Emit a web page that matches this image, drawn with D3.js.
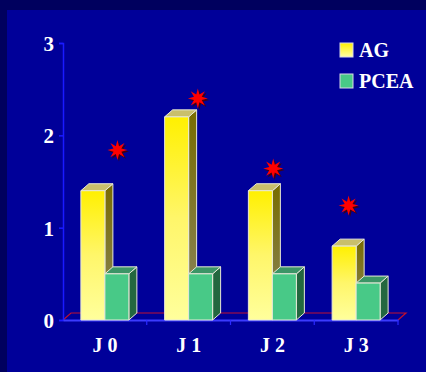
<!DOCTYPE html>
<html>
<head>
<meta charset="utf-8">
<script src="https://cdn.jsdelivr.net/npm/d3@7/dist/d3.min.js"></script>
<style>
  html, body { margin: 0; padding: 0; background: #00005e; }
  svg { display: block; }
</style>
</head>
<body>
<svg id="chart" width="426" height="372"></svg>
<script>
// Categories, series and values
const categories = ["J 0", "J 1", "J 2", "J 3"];
const seriesNames = ["AG", "PCEA"];
const agValues = [1.4, 2.2, 1.4, 0.8];
const pceaValues = [0.5, 0.5, 0.5, 0.4];
// Significance markers: value level and horizontal place within each category (0..1 of the band step)
const starValues = [1.84, 2.4, 1.64, 1.24];
const starPlace = [0.65, 0.61, 0.51, 0.41];
const yTicks = [0, 1, 2, 3];

const W = 426, H = 372;
const svg = d3.select("#chart");
const defs = svg.append("defs");

// background panel
svg.append("rect").attr("width", W).attr("height", H).attr("fill", "#00005e");
svg.append("rect").attr("x", 7).attr("y", 10).attr("width", W - 7).attr("height", H - 10).attr("fill", "#000099");

const plot = { left: 63, right: 398, top: 43, bottom: 320 };
const depth = { dx: 8, dy: -7 };

const x = d3.scaleBand().domain(categories).range([plot.left, plot.right])
  .paddingInner(0.427).paddingOuter(0.2135);
const xs = d3.scaleBand().domain(seriesNames).range([0, x.bandwidth()]).padding(0);
const y = d3.scaleLinear().domain([0, 3]).range([plot.bottom, plot.top]);

// gradients
function linGrad(id, stops) {
  const g = defs.append("linearGradient").attr("id", id)
    .attr("x1", 0).attr("y1", 0).attr("x2", 0).attr("y2", 1);
  stops.forEach(s => g.append("stop").attr("offset", s[0]).attr("stop-color", s[1]));
}
linGrad("agFront", [[0, "#fff000"], [0.5, "#fff66a"], [1, "#ffff9c"]]);
linGrad("agSide", [[0, "#786c00"], [1, "#8a8560"]]);
linGrad("agLegend", [[0, "#fff000"], [1, "#ffffa8"]]);

const styles = {
  AG: { front: "url(#agFront)", side: "url(#agSide)", top: "#c9bf6c" },
  PCEA: { front: "#48c987", side: "#23673f", top: "#3b9566" }
};

// floor of the 3D plot
const floor = svg.append("g");
floor.append("path")
  .attr("d", `M${plot.left},${plot.bottom} L${plot.left + depth.dx},${plot.bottom + depth.dy} L${plot.right + depth.dx},${plot.bottom + depth.dy} L${plot.right},${plot.bottom}`)
  .attr("fill", "none").attr("stroke", "#c01030").attr("stroke-width", 1.2);

// y axis
const yAxis = d3.axisLeft(y).tickValues(yTicks).tickSize(4).tickPadding(5).tickFormat(d3.format("d"));
const yG = svg.append("g").attr("transform", `translate(${plot.left},0)`).call(yAxis);
yG.select(".domain").attr("stroke", "#1a1aff").attr("stroke-width", 1.5);
yG.selectAll(".tick line").attr("stroke", "#1a1aff").attr("stroke-width", 1.5);
yG.selectAll(".tick text")
  .attr("fill", "#ffffff").attr("font-family", "'Liberation Serif', 'Times New Roman', serif")
  .attr("font-weight", "bold").attr("font-size", 21).attr("dy", "0.36em");

// x axis
const xAxis = d3.axisBottom(x).tickSize(0).tickPadding(22);
const xG = svg.append("g").attr("transform", `translate(0,${plot.bottom})`).call(xAxis);
xG.select(".domain").attr("stroke", "#3b3bff").attr("stroke-width", 2);
xG.selectAll(".tick text")
  .attr("fill", "#ffffff").attr("font-family", "'Liberation Serif', 'Times New Roman', serif")
  .attr("font-weight", "bold").attr("font-size", 20).attr("dy", "0.5em")
  .style("white-space", "pre").attr("xml:space", "preserve");
// category separators on the front edge
const sepX = categories.map((c, i) => plot.left + x.step() * (i + 1));
xG.selectAll(".sep").data(sepX).join("line").attr("class", "sep")
  .attr("x1", d => d).attr("x2", d => d).attr("y1", 0).attr("y2", 5)
  .attr("stroke", "#2a2aff").attr("stroke-width", 1.2);

// 3D bars
const rows = categories.map((c, i) => ({ cat: c, AG: agValues[i], PCEA: pceaValues[i] }));
const barsG = svg.append("g");
rows.forEach(row => {
  seriesNames.forEach(s => {
    const x0 = x(row.cat) + xs(s);
    const w = xs.bandwidth();
    const yt = y(row[s]);
    const yb = y(0);
    const st = styles[s];
    const g = barsG.append("g").attr("stroke", "#e8e8d8").attr("stroke-width", 1).attr("stroke-linejoin", "round");
    // side face
    g.append("path")
      .attr("d", `M${x0 + w},${yb} L${x0 + w + depth.dx},${yb + depth.dy} L${x0 + w + depth.dx},${yt + depth.dy} L${x0 + w},${yt} Z`)
      .attr("fill", st.side);
    // top face
    g.append("path")
      .attr("d", `M${x0},${yt} L${x0 + depth.dx},${yt + depth.dy} L${x0 + w + depth.dx},${yt + depth.dy} L${x0 + w},${yt} Z`)
      .attr("fill", st.top);
    // front face
    g.append("rect").attr("x", x0).attr("y", yt).attr("width", w).attr("height", yb - yt)
      .attr("fill", st.front);
  });
});

// 8-pointed star markers
const starPts = d3.range(16).map(k => [k * Math.PI / 8, k % 2 === 0 ? 10 : 4.2]);
const starPath = d3.lineRadial().curve(d3.curveLinearClosed)(starPts);
const starsG = svg.append("g");
categories.forEach((c, i) => {
  const cx = plot.left + x.step() * (i + starPlace[i]);
  const cy = y(starValues[i]);
  starsG.append("path").attr("d", starPath).attr("transform", `translate(${cx + 1.5},${cy + 1.5})`)
    .attr("fill", "#400010");
  starsG.append("path").attr("d", starPath).attr("transform", `translate(${cx},${cy})`)
    .attr("fill", "#ff0000");
});

// legend
const legend = svg.append("g").attr("transform", "translate(340,43)");
const legendFill = { AG: "url(#agLegend)", PCEA: "#48c987" };
seriesNames.forEach((s, i) => {
  const g = legend.append("g").attr("transform", `translate(0,${i * 31})`);
  g.append("rect").attr("width", 13).attr("height", 14).attr("fill", legendFill[s])
    .attr("stroke", "#d8d8e8").attr("stroke-width", 1);
  g.append("text").attr("x", 19).attr("y", 14).text(s)
    .attr("fill", "#ffffff").attr("font-family", "'Liberation Serif', 'Times New Roman', serif")
    .attr("font-weight", "bold").attr("font-size", 20);
});
</script>
</body>
</html>
